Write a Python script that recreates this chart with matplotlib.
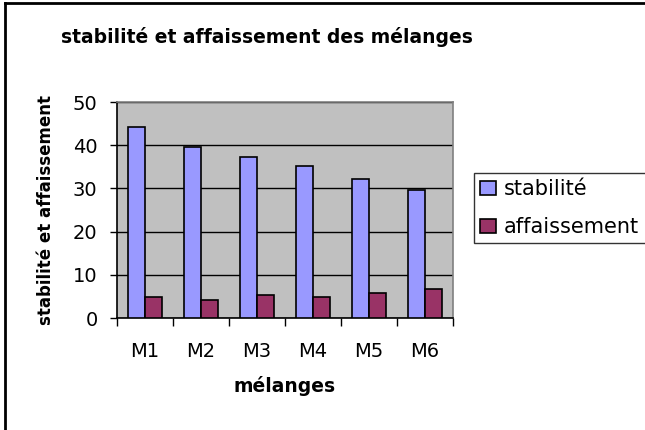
import matplotlib
matplotlib.use("Agg")
import matplotlib.pyplot as plt
import numpy as np
from matplotlib.lines import Line2D

categories = ["M1", "M2", "M3", "M4", "M5", "M6"]
stabilite = [44.2, 39.6, 37.2, 35.1, 32.2, 29.7]
affaissement = [4.9, 4.1, 5.3, 4.9, 5.9, 6.6]
series_names = ["stabilité", "affaissement"]
yticks = [0, 10, 20, 30, 40, 50]

plt.rcParams['font.family'] = ['DejaVu Sans']

fig = plt.figure(figsize=(6.45, 4.30), dpi=100)
ax = fig.add_axes([117/645, 1-318/430, 336/645, 216/430])
ax.set_facecolor("#C0C0C0")

x = np.arange(len(categories))
w = 0.305
ax.bar(x - w/2, stabilite, w, color="#9999FF", edgecolor="black", linewidth=1.2,
       label=series_names[0], zorder=3)
ax.bar(x + w/2, affaissement, w, color="#993366", edgecolor="black", linewidth=1.2,
       label=series_names[1], zorder=3)

ax.set_xlim(-0.5, len(categories) - 0.5)
ax.set_ylim(0, 50)
ax.set_yticks(yticks)
ax.set_yticklabels([str(v) for v in yticks], fontsize=14)
ax.yaxis.grid(True, color="black", linewidth=1, zorder=1)
ax.set_axisbelow(True)

ax.set_xticks(x)
ax.set_xticklabels(categories, fontsize=14)
ax.tick_params(axis='x', length=0, pad=17)
ax.set_xticks(np.arange(len(categories) + 1) - 0.5, minor=True)
ax.tick_params(axis='x', which='minor', length=6, width=1, color='black', direction='out')
ax.tick_params(axis='y', length=5, width=1, direction='out', pad=9)

for s in ['top', 'right']:
    ax.spines[s].set_color("#808080")
    ax.spines[s].set_linewidth(1.2)
for s in ['left', 'bottom']:
    ax.spines[s].set_color("black")
    ax.spines[s].set_linewidth(1.2)

ax.set_xlabel("mélanges", fontsize=13.5, fontweight='bold', labelpad=11)
ax.set_ylabel("stabilité et affaissement", fontsize=12, fontweight='bold', labelpad=13)

fig.text(267/645, 1-37/430, "stabilité et affaissement des mélanges",
         fontsize=13.5, fontweight='bold', ha='center', va='center')

leg = fig.legend(loc='upper left', bbox_to_anchor=(474/645, 1-173/430),
                 bbox_transform=fig.transFigure, fontsize=15, frameon=True,
                 fancybox=False, edgecolor='black', handlelength=0.75, handleheight=0.65,
                 handletextpad=0.4, borderpad=0.3, labelspacing=0.85, borderaxespad=0)
leg.get_frame().set_linewidth(1.0)

fig.add_artist(Line2D([5/645, 5/645], [0, 1-3/430], transform=fig.transFigure,
                      color='black', linewidth=2))
fig.add_artist(Line2D([5/645, 1], [1-3/430, 1-3/430], transform=fig.transFigure,
                      color='black', linewidth=2))

fig.savefig("out.png", dpi=100)
